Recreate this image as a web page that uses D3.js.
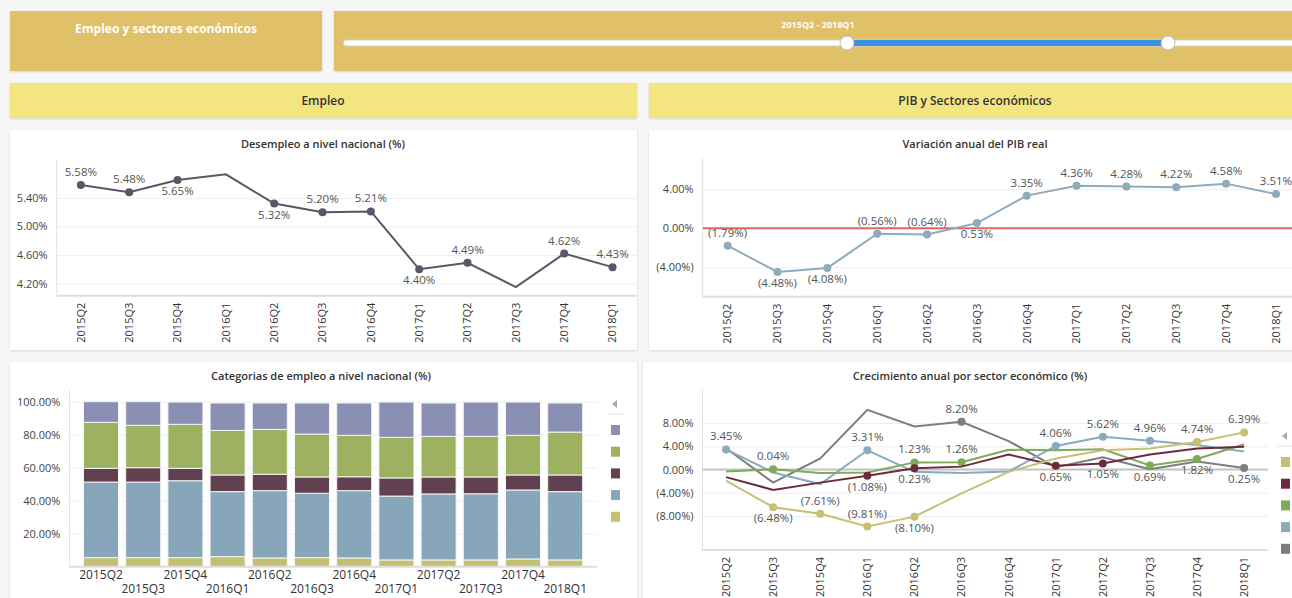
<!DOCTYPE html>
<html>
<head>
<meta charset="utf-8">
<script src="https://cdn.jsdelivr.net/npm/d3@7"></script>
<style>
  html, body { margin: 0; padding: 0; background: #f6f6f6; }
  svg { display: block; font-family: "Open Sans", sans-serif; }
</style>
</head>
<body>
<svg id="dash" width="1292" height="598"></svg>
<script>
// ---- data ----
const quarters = ["2015Q2", "2015Q3", "2015Q4", "2016Q1", "2016Q2", "2016Q3",
                  "2016Q4", "2017Q1", "2017Q2", "2017Q3", "2017Q4", "2018Q1"];

// Desempleo a nivel nacional (%)
const desempleo = [5.58, 5.48, 5.65, 5.73, 5.32, 5.20, 5.21, 4.40, 4.49, 4.15, 4.62, 4.43];
const desempleoLabels = ["above", "above", "below", null, "below", "above", "above", "below", "above", null, "above", "above"];
const desempleoTicks = [4.2, 4.6, 5.0, 5.4];

// Variación anual del PIB real
const pib = [-1.79, -4.48, -4.08, -0.56, -0.64, 0.53, 3.35, 4.36, 4.28, 4.22, 4.58, 3.51];
const pibLabels = ["above", "below", "below", "above", "above", "below", "above", "above", "above", "above", "above", "above"];
const pibTicks = [-4, 0, 4];

// Categorias de empleo (stack bottom -> top)
const empleoCat1 = [5.5, 5.5, 5.5, 6.1, 5.3, 5.5, 5.3, 4.1, 4.1, 4.1, 4.7, 4.1];
const empleoCat2 = [45.8, 45.8, 46.6, 39.4, 40.8, 39.0, 40.8, 38.7, 40.0, 40.1, 41.8, 41.4];
const empleoCat3 = [8.3, 8.7, 7.5, 10.1, 9.9, 9.9, 8.4, 11.0, 10.3, 10.2, 9.1, 10.1];
const empleoCat4 = [27.9, 25.7, 26.7, 27.0, 27.2, 26.0, 25.1, 24.6, 24.6, 24.6, 24.0, 26.0];
const empleoCat5 = [12.5, 14.3, 13.5, 16.6, 16.0, 18.8, 19.6, 21.4, 20.2, 20.8, 20.2, 17.6];
const empleoTicks = [20, 40, 60, 80, 100];

// Crecimiento anual por sector económico (%)
const sector1 = [-1.9, -6.48, -7.61, -9.81, -8.10, -4.1, -0.4, 1.9, 3.3, 3.6, 4.74, 6.39];
const sector2 = [-1.3, -3.5, -2.25, -1.08, 0.23, 0.5, 2.6, 0.65, 1.05, 2.6, 3.6, 3.9];
const sector3 = [-0.35, 0.04, -0.6, -0.5, 1.23, 1.26, 3.4, 3.3, 3.5, 0.69, 1.82, 4.35];
const sector4 = [3.45, -0.5, -2.5, 3.31, -0.4, -0.6, -0.35, 4.06, 5.62, 4.96, 4.2, 3.1];
const sector5 = [3.65, -2.25, 1.9, 10.26, 7.4, 8.20, 4.9, 0.4, 2.1, 0.05, 1.4, 0.25];
const sector1Labels = [null, "below", "above", "above", "below", null, null, null, null, null, "above", "above"];
const sector2Labels = [null, null, null, "below", "below", null, null, "below", "below", null, null, null];
const sector3Labels = [null, "above", null, null, "above", "above", null, null, null, "below", "below", null];
const sector4Labels = ["above", null, null, "above", null, null, null, "above", "above", "above", null, null];
const sector5Labels = [null, null, null, null, null, "above", null, null, null, null, null, "below"];
const sectorTicks = [-8, -4, 0, 4, 8];

// ---- helpers ----
const fmt = v => v < 0 ? "(" + Math.abs(v).toFixed(2) + "%)" : v.toFixed(2) + "%";
const textColor = "#444";

const svg = d3.select("#dash");
const defs = svg.append("defs");
const shadow = defs.append("filter").attr("id", "shadow")
    .attr("x", "-5%").attr("y", "-5%").attr("width", "110%").attr("height", "110%");
shadow.append("feDropShadow").attr("dx", 0).attr("dy", 1).attr("stdDeviation", 1.2)
    .attr("flood-color", "#000").attr("flood-opacity", 0.13);

svg.append("rect").attr("width", 1292).attr("height", 598).attr("fill", "#f6f6f6");

function box(x, y, w, h, fill) {
  return svg.append("rect").attr("x", x).attr("y", y).attr("width", w).attr("height", h)
    .attr("fill", fill).attr("filter", "url(#shadow)");
}

function label(x, y, txt, opts = {}) {
  return svg.append("text").attr("x", x).attr("y", y).text(txt)
    .attr("text-anchor", "middle")
    .attr("fill", opts.fill || "#333")
    .style("font-size", (opts.size || 11) + "px")
    .style("font-weight", opts.weight || 600);
}

function yAxis(y, ticks, left, right) {
  // faint gridlines
  svg.append("g").attr("transform", `translate(${left},0)`)
    .call(d3.axisLeft(y).tickValues(ticks).tickSize(-(right - left)).tickFormat(""))
    .call(g => g.select(".domain").remove())
    .selectAll("line").attr("stroke", "#efefef");
  svg.append("g").attr("transform", `translate(${left},0)`)
    .call(d3.axisLeft(y).tickValues(ticks).tickSize(0).tickPadding(9).tickFormat(fmt))
    .call(g => g.select(".domain").remove())
    .attr("font-family", "Open Sans, sans-serif").attr("font-size", 11)
    .selectAll("text").attr("fill", textColor);
  const [y0, y1] = y.range();
  svg.append("line").attr("x1", left).attr("x2", left).attr("y1", y1).attr("y2", y0)
    .attr("stroke", "#e2e2e2");
  svg.append("line").attr("x1", left).attr("x2", right).attr("y1", y0).attr("y2", y0)
    .attr("stroke", "#dddddd").attr("stroke-width", 2);
}

function xAxisRotated(x, bottom) {
  svg.append("g").attr("transform", `translate(0,${bottom})`)
    .call(d3.axisBottom(x).tickSize(0))
    .call(g => g.select(".domain").remove())
    .attr("font-family", "Open Sans, sans-serif").attr("font-size", 11)
    .selectAll("text")
      .attr("transform", "rotate(-90)")
      .attr("x", -7).attr("y", 0).attr("dy", "0.35em")
      .attr("text-anchor", "end")
      .attr("fill", "#333");
}

function series(x, y, values, sides, color, allMarkers) {
  const bw = x.bandwidth() / 2;
  const line = d3.line()
    .x((d, i) => x(quarters[i]) + bw)
    .y(d => y(d));
  svg.append("path").datum(values)
    .attr("d", line).attr("fill", "none")
    .attr("stroke", color).attr("stroke-width", 2);
  const pts = values.map((v, i) => ({ v, i, side: sides[i] }))
    .filter(d => allMarkers || d.side);
  svg.append("g").selectAll("circle").data(pts).enter().append("circle")
    .attr("cx", d => x(quarters[d.i]) + bw)
    .attr("cy", d => y(d.v))
    .attr("r", 4).attr("fill", color);
  return pts;
}

function pointLabels(x, y, values, sides) {
  const bw = x.bandwidth() / 2;
  const pts = values.map((v, i) => ({ v, i, side: sides[i] })).filter(d => d.side);
  svg.append("g").selectAll("text").data(pts).enter().append("text")
    .attr("x", d => x(quarters[d.i]) + bw)
    .attr("y", d => y(d.v) + (d.side === "above" ? -9 : 15))
    .attr("text-anchor", "middle")
    .attr("fill", "#555")
    .style("font-size", "11.5px")
    .text(d => fmt(d.v));
}

// ---- top tiles ----
box(10, 11, 312, 60, "#e0c068");
label(166, 33, "Empleo y sectores económicos", { fill: "#fff", size: 12, weight: 700 });
box(334, 11, 970, 60, "#e0c068");
label(818, 28, "2015Q2 - 2018Q1", { fill: "#fff", size: 9, weight: 700 });

// range slider
svg.append("rect").attr("x", 343).attr("y", 40).attr("width", 960).attr("height", 6).attr("rx", 3)
  .attr("fill", "#fff").attr("stroke", "#cfcfcf");
svg.append("rect").attr("x", 847).attr("y", 40).attr("width", 321).attr("height", 6)
  .attr("fill", "#3b8fe3");
[847, 1168].forEach(cx => {
  svg.append("circle").attr("cx", cx).attr("cy", 43).attr("r", 7)
    .attr("fill", "#fff").attr("stroke", "#bdbdbd");
});

box(10, 83, 627, 35, "#f3e57f");
label(323, 105, "Empleo", { size: 12, weight: 600 });
box(649, 83, 660, 35, "#f3e57f");
label(975, 105, "PIB y Sectores económicos", { size: 12, weight: 600 });

// ---- panels ----
box(10, 130, 627, 220, "#fff");
box(649, 130, 660, 220, "#fff");
box(10, 362, 627, 250, "#fff");
box(643, 362, 670, 250, "#fff");

// ---- Desempleo ----
label(323, 148, "Desempleo a nivel nacional (%)");
const x1 = d3.scaleBand().domain(quarters).range([56.7, 636.7]);
const y1 = d3.scaleLinear().domain([4.03, 5.94]).range([295.7, 159.3]);
yAxis(y1, desempleoTicks, 56.7, 636.7);
xAxisRotated(x1, 295.7);
series(x1, y1, desempleo, desempleoLabels, "#5d5468", false);
pointLabels(x1, y1, desempleo, desempleoLabels);

// ---- PIB ----
label(975, 148, "Variación anual del PIB real");
const x2 = d3.scaleBand().domain(quarters).range([702.7, 1300.9]);
const y2 = d3.scaleLinear().domain([-7.02, 7.18]).range([296.7, 158.3]);
yAxis(y2, pibTicks, 702.7, 1300.9);
xAxisRotated(x2, 296.7);
svg.append("line").attr("x1", 702.7).attr("x2", 1300).attr("y1", y2(0)).attr("y2", y2(0))
  .attr("stroke", "#e06666").attr("stroke-width", 2);
series(x2, y2, pib, pibLabels, "#8fabbb", true);
pointLabels(x2, y2, pib, pibLabels);

// ---- Categorias de empleo ----
label(321, 380, "Categorias de empleo a nivel nacional (%)");
const catKeys = ["c1", "c2", "c3", "c4", "c5"];
const catColors = ["#c5bf73", "#87a6b9", "#61404f", "#9db160", "#8a8fb4"];
const catRows = quarters.map((q, i) => ({
  q, c1: empleoCat1[i], c2: empleoCat2[i], c3: empleoCat3[i], c4: empleoCat4[i], c5: empleoCat5[i]
}));
const stacked = d3.stack().keys(catKeys)(catRows);
const x3 = d3.scaleBand().domain(quarters).range([79.9, 586.3]).paddingInner(0.17).paddingOuter(0.085);
const y3 = d3.scaleLinear().domain([0, 100]).range([566.7, 401.7]);

svg.append("g").attr("transform", "translate(69.4,0)")
  .call(d3.axisLeft(y3).tickValues(empleoTicks).tickSize(-528).tickFormat(""))
  .call(g => g.select(".domain").remove())
  .selectAll("line").attr("stroke", "#efefef");
svg.append("g").attr("transform", "translate(69.4,0)")
  .call(d3.axisLeft(y3).tickValues(empleoTicks).tickSize(0).tickPadding(9).tickFormat(fmt))
  .call(g => g.select(".domain").remove())
  .attr("font-family", "Open Sans, sans-serif").attr("font-size", 11)
  .selectAll("text").attr("fill", textColor);
svg.append("line").attr("x1", 69.4).attr("x2", 69.4).attr("y1", 390).attr("y2", 566.7).attr("stroke", "#e2e2e2");

svg.append("g").selectAll("g").data(stacked).enter().append("g")
  .attr("fill", (d, i) => catColors[i])
  .selectAll("rect").data(d => d).enter().append("rect")
    .attr("x", d => x3(d.data.q))
    .attr("width", x3.bandwidth())
    .attr("y", d => y3(d[1]))
    .attr("height", d => y3(d[0]) - y3(d[1]))
    .attr("stroke", "#f4f4f4").attr("stroke-width", 1);

svg.append("line").attr("x1", 69.4).attr("x2", 597).attr("y1", 566.7).attr("y2", 566.7)
  .attr("stroke", "#dddddd").attr("stroke-width", 2);

// staggered quarter labels, two rows
svg.append("g").attr("transform", "translate(0,566.7)")
  .call(d3.axisBottom(x3).tickSize(0))
  .call(g => g.select(".domain").remove())
  .attr("font-family", "Open Sans, sans-serif").attr("font-size", 12)
  .selectAll("text")
    .attr("y", (d, i) => i % 2 === 0 ? 4 : 17.5)
    .attr("dy", "0.71em")
    .attr("fill", "#333");

// legend (labels cut off)
function legend(x, yTop, colors) {
  svg.append("path").attr("d", `M${x + 6},${yTop - 4} L${x + 1},${yTop} L${x + 6},${yTop + 4} Z`).attr("fill", "#aaa");
  svg.append("line").attr("x1", x - 4).attr("x2", x + 14).attr("y1", yTop + 10).attr("y2", yTop + 10)
    .attr("stroke", "#e2e2e2");
  svg.append("g").selectAll("rect").data(colors).enter().append("rect")
    .attr("x", x).attr("y", (d, i) => yTop + 21 + i * 21.7)
    .attr("width", 9).attr("height", 10).attr("fill", d => d);
}
legend(611, 404, catColors.slice().reverse());

// ---- Crecimiento por sector ----
label(970, 380, "Crecimiento anual por sector económico (%)");
const x4 = d3.scaleBand().domain(quarters).range([702.5, 1267.7]);
const y4 = d3.scaleLinear().domain([-13.84, 13.8]).range([550, 389.3]);
yAxis(y4, sectorTicks, 702.5, 1267.7);
svg.append("line").attr("x1", 702.5).attr("x2", 1267.7).attr("y1", y4(0)).attr("y2", y4(0))
  .attr("stroke", "#c4c4c4").attr("stroke-width", 2);
xAxisRotated(x4, 550);

const sectorColors = ["#c6c072", "#6e2a3b", "#7eaa5a", "#8aabbd", "#7d7d7d"];
const sectorValues = [sector1, sector2, sector3, sector4, sector5];
const sectorSides = [sector1Labels, sector2Labels, sector3Labels, sector4Labels, sector5Labels];
[4, 3, 2, 1, 0].forEach(k => series(x4, y4, sectorValues[k], sectorSides[k], sectorColors[k], false));
sectorValues.forEach((vals, k) => pointLabels(x4, y4, vals, sectorSides[k]));

legend(1281, 436, sectorColors);
</script>
</body>
</html>
